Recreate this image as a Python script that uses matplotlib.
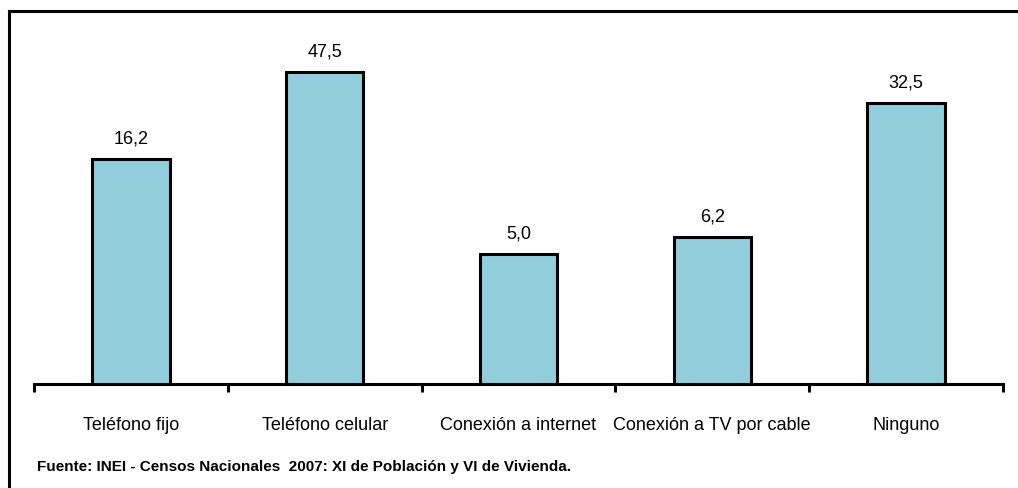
import numpy as np
import matplotlib
matplotlib.use("Agg")
import matplotlib.pyplot as plt
from matplotlib.lines import Line2D

categories = ["Teléfono fijo", "Teléfono celular", "Conexión a internet",
              "Conexión a TV por cable", "Ninguno"]
values = [16.2, 47.5, 5.0, 6.2, 32.5]
value_labels = ["16,2", "47,5", "5,0", "6,2", "32,5"]
source = "Fuente: INEI - Censos Nacionales  2007: XI de Población y VI de Vivienda."

plt.rcParams['font.family'] = ['Liberation Sans Narrow', 'Liberation Sans', 'DejaVu Sans']

fig = plt.figure(figsize=(10.18, 4.89), dpi=100)
ax = fig.add_axes([34/1018, 1 - 385/489, (1003 - 34)/1018, (385 - 13)/489])

x = np.arange(len(categories))
ax.bar(x, values, width=0.4, color="#92CDDC", edgecolor="black",
       linewidth=2.2, zorder=3)
ax.set_yscale("log")
ax.set_ylim(1, 100)
ax.set_xlim(-0.5, len(categories) - 0.5)

for xi, v, s in zip(x, values, value_labels):
    ax.annotate(s, (xi, v), xytext=(0, 9), textcoords="offset points",
                ha="center", va="bottom", fontsize=13)

for side in ["top", "right", "left"]:
    ax.spines[side].set_visible(False)
ax.spines["bottom"].set_linewidth(2.2)
ax.spines["bottom"].set_zorder(4)
ax.set_yticks([])
ax.yaxis.set_minor_locator(matplotlib.ticker.NullLocator())
ax.set_xticks(np.arange(-0.5, len(categories)), minor=True)
ax.tick_params(axis="x", which="minor", length=6, width=2.2, direction="out")
ax.set_xticks(x)
ax.set_xticklabels(categories, fontsize=13)
ax.tick_params(axis="x", which="major", length=0, pad=23)

# outer frame (left and top edges)
fig.add_artist(Line2D([9/1018, 9/1018], [0, 1 - 12/489], color="black", lw=2.2,
                      transform=fig.transFigure))
fig.add_artist(Line2D([9/1018, 1], [1 - 12/489, 1 - 12/489], color="black", lw=2.2,
                      transform=fig.transFigure))

fig.text(37/1018, 1 - 467/489, source, fontsize=11, fontweight="bold",
         va="center", ha="left")

fig.savefig("out.png", dpi=100)
